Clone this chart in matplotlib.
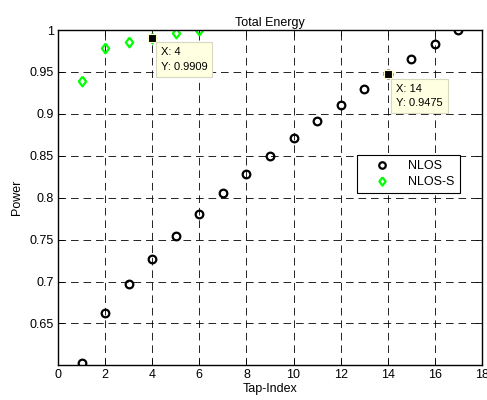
import numpy as np
import matplotlib
matplotlib.use('Agg')
import matplotlib.pyplot as plt

# Cumulative power per tap
taps_nlos = [1, 2, 3, 4, 5, 6, 7, 8, 9, 10, 11, 12, 13, 14, 15, 16, 17]
pow_nlos = [0.6024, 0.663, 0.697, 0.727, 0.754, 0.781, 0.806, 0.828, 0.850,
            0.871, 0.891, 0.911, 0.930, 0.9475, 0.965, 0.983, 1.0]
taps_nlos_s = [1, 2, 3, 4, 5, 6]
pow_nlos_s = [0.939, 0.979, 0.986, 0.9909, 0.997, 1.0]

# data tips
tip_x = [4, 14]
tip_y = [0.9909, 0.9475]

xticks = [0, 2, 4, 6, 8, 10, 12, 14, 16, 18]
yticks = [0.65, 0.7, 0.75, 0.8, 0.85, 0.9, 0.95, 1]

plt.rcParams['font.family'] = ['Liberation Sans', 'DejaVu Sans']
plt.rcParams['font.size'] = 9
plt.rcParams['lines.scale_dashes'] = False

# matlab-ish diamond, a bit taller than wide
diamond = [(0, 1), (0.75, 0), (0, -1), (-0.75, 0), (0, 1)]

fig = plt.figure(figsize=(4.87, 4.0), dpi=100)
ax = fig.add_axes([58/487, 35/400, 424/487, 335/400])

ax.plot(taps_nlos, pow_nlos, 'o', mfc='none', mec='black', ms=5.5, mew=1.6, label='NLOS')
ax.plot(taps_nlos_s, pow_nlos_s, marker=diamond, ls='none', mfc='none', mec='#00ff00',
        ms=7, mew=1.6, label='NLOS-S')

ax.plot(tip_x, tip_y, 's', color='black', mec='#ffffcc', ms=6, mew=0.8, zorder=5)
for x, y in zip(tip_x, tip_y):
    ax.annotate('X: %d\nY: %.4f' % (x, y), (x, y), xytext=(6, -7),
                textcoords='offset points', ha='left', va='top', fontsize=8,
                linespacing=1.55,
                bbox=dict(boxstyle='square,pad=0.45', fc='#ffffe1', ec='#d8d8c0', lw=0.8),
                zorder=6)

ax.set_xlim(0, 18)
ax.set_ylim(0.6005, 1)
ax.set_xticks(xticks)
ax.set_yticks(yticks)
ax.set_yticklabels(['0.65', '0.7', '0.75', '0.8', '0.85', '0.9', '0.95', '1'])
ax.tick_params(direction='in', top=True, right=True, length=4, width=0.6, pad=3)
ax.grid(True, color='black', linestyle=(0, (5.5, 3.5)), linewidth=0.6)
for s in ax.spines.values():
    s.set_linewidth(1.0)

ax.set_title('Total Energy', fontsize=9, pad=3)
ax.set_xlabel('Tap-Index', labelpad=1)
ax.set_ylabel('Power', labelpad=5)

leg = ax.legend(loc='upper left', bbox_to_anchor=(299/424, 1 - 125/335), fancybox=False,
                framealpha=1, edgecolor='black', borderpad=0.4, handletextpad=0.5,
                labelspacing=0.35, handlelength=3.2, borderaxespad=0, markerscale=0.85)
leg.get_frame().set_linewidth(0.8)

plt.savefig('out.png', dpi=100)
